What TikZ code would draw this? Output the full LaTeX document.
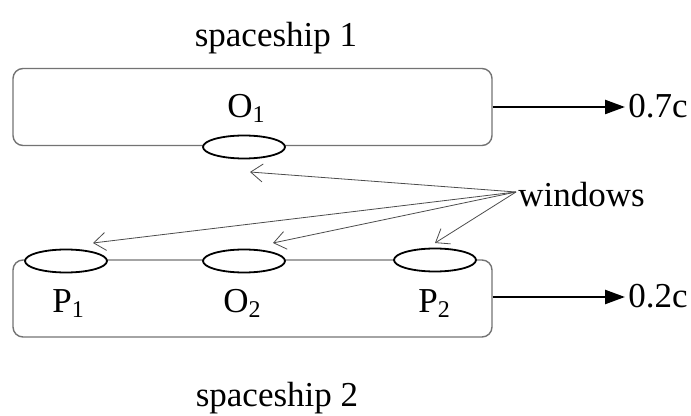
\documentclass[tikz,border=0pt]{standalone}
\usepackage{fontspec}
\setmainfont{Liberation Serif}
\usetikzlibrary{arrows.meta,shapes.geometric}
\newcommand\lowsub[1]{\raisebox{-2.5pt}{\fontsize{12}{14}\selectfont #1}}
\begin{document}
\begin{tikzpicture}[x=0.5pt,y=-0.5pt,
  hull/.style={draw=black!55, line width=0.7pt, rounded corners=5pt, minimum width=239.5pt, minimum height=38.5pt, inner sep=0pt},
  win/.style={ellipse, draw=black, line width=0.9pt, fill=white, minimum width=41pt, minimum height=11.5pt, inner sep=0pt},
  lbl/.style={font=\fontsize{17.5}{21}\selectfont, inner sep=0pt, anchor=base west},
  title/.style={font=\fontsize{17.5}{21}\selectfont, inner sep=0pt, anchor=base},
  pointer/.style={draw=black!70, line width=0.4pt, -{Straight Barb[length=6pt,width=9pt]}},
  motion/.style={line width=1.2pt, -{Triangle[length=10pt,width=7pt]}}]
\useasboundingbox (0,0) rectangle (691,416);
% hulls
\node[hull] (ship1) at (252.5,107) {};
\node[hull] (ship2) at (252.5,298.5) {};
% windows
\node[win] (w1) at (244,147) {};
\node[win] (w2) at (66,261) {};
\node[win] (w3) at (244,261) {};
\node[win] (w4) at (435,260) {};
% labels
\node[title] (s1) at (276,47) {spaceship 1};
\node[title] (s2) at (277,407) {spaceship 2};
\node[lbl] (o1) at (227,118) {O\lowsub{1}};
\node[lbl] (p1) at (52,313) {P\lowsub{1}};
\node[lbl] (o2) at (223,313) {O\lowsub{2}};
\node[lbl] (p2) at (418,313) {P\lowsub{2}};
\node[lbl] (v1) at (628,118) {0.7c};
\node[lbl] (v2) at (628,308) {0.2c};
\node[lbl] (wl) at (518,207) {windows};
% motion arrows
\coordinate (e1) at (625,107);
\coordinate (e2) at (625,297);
\draw[motion] (ship1.east |- e1) -- (e1);
\draw[motion] (ship2.east |- e2) -- (e2);
% pointer arrows
\coordinate (src) at (516,192);
\coordinate (t1) at (250,172);
\coordinate (t2) at (93,243);
\coordinate (t3) at (273,243);
\coordinate (t4) at (435,243);
\draw[pointer] (src) -- (t1);
\draw[pointer] (src) -- (t2);
\draw[pointer] (src) -- (t3);
\draw[pointer] (src) -- (t4);
\end{tikzpicture}
\end{document}
